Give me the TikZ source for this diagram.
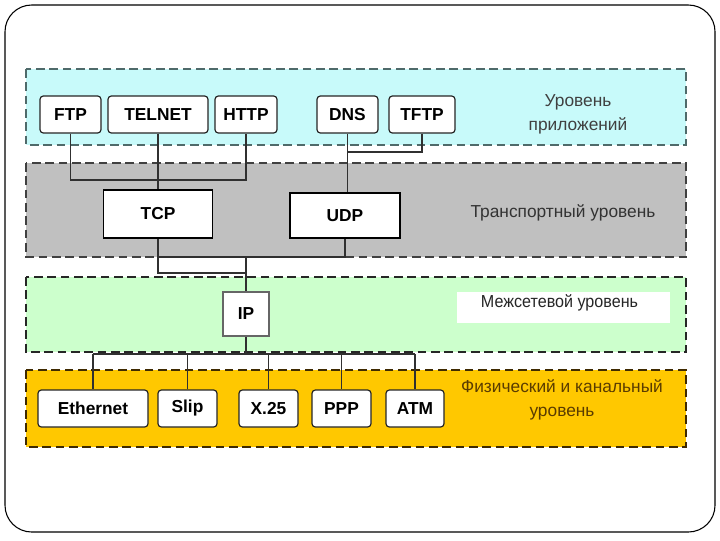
\documentclass[tikz,border=0pt]{standalone}
\usepackage{fontspec}
\setmainfont{Liberation Sans}
\usepackage{graphicx}
\definecolor{appfill}{HTML}{C8FAFA}
\definecolor{trfill}{HTML}{C0C0C0}
\definecolor{netfill}{HTML}{CCFFCC}
\definecolor{phfill}{HTML}{FFC800}
\definecolor{appline}{HTML}{4F6A6A}
\definecolor{phline}{HTML}{3F2A00}
\definecolor{phtext}{HTML}{5A3C00}
\definecolor{wire}{HTML}{303030}
\begin{document}
\begin{tikzpicture}[x=0.75pt,y=-0.75pt,
  layer/.style={line width=1.3pt, dash pattern=on 6.5pt off 3.5pt},
  proto/.style={draw=black!85, line width=0.9pt, rounded corners=2.5pt, fill=white,
    inner sep=0pt, minimum height=37*0.75pt, font=\bfseries\fontsize{13}{15}\selectfont},
  trbox/.style={draw=black, line width=1.3pt, fill=white, inner sep=0pt,
    font=\bfseries\fontsize{13}{15}\selectfont},
  lbl/.style={font=\fontsize{13}{18}\selectfont, align=center},
  wirestyle/.style={draw=wire, line width=1pt}
]
\useasboundingbox (0,0) rectangle (720,540);
% slide frame
\draw[line width=0.8pt, rounded corners=20pt] (5,5) rectangle (715,532);

% layers
\path[fill=appfill] (26,69) rectangle (686,145);
\draw[layer, draw=appline] (26,69) rectangle (686,145);
\path[fill=trfill] (26,163) rectangle (686,257);
\draw[layer, draw=black!75] (26,163) rectangle (686,257);
\path[fill=netfill] (26,277) rectangle (686,352);
\draw[layer, draw=black!85] (26,277) rectangle (686,352);
\path[fill=phfill] (26,370) rectangle (686,447);
\draw[layer, draw=phline] (26,370) rectangle (686,447);

% bus coordinates
\coordinate (busA) at (0,180);
\coordinate (busB) at (0,152);
\coordinate (busC) at (0,273);
\coordinate (busD) at (0,257);
\coordinate (busE) at (0,354);

% application protocols
\node[proto, minimum width=61*0.75pt] (FTP) at (70.5,114.5) {FTP};
\node[proto, minimum width=100*0.75pt] (TELNET) at (158,114.5) {TELNET};
\node[proto, minimum width=62*0.75pt] (HTTP) at (246,114.5) {HTTP};
\node[proto, minimum width=61*0.75pt] (DNS) at (347.5,114.5) {DNS};
\node[proto, minimum width=66*0.75pt] (TFTP) at (422,114.5) {TFTP};

% transport
\node[trbox, minimum width=109*0.75pt, minimum height=48*0.75pt] (TCP) at (158,214) {TCP};
\node[trbox, minimum width=110*0.75pt, minimum height=45*0.75pt] (UDP) at (345,215.5) {UDP};

% IP
\node[draw=black!60, line width=1.2pt, fill=white, inner sep=0pt,
  minimum width=46*0.75pt, minimum height=44*0.75pt,
  font=\bfseries\fontsize{13}{15}\selectfont] (IP) at (246,314) {IP};

% physical
\node[proto, minimum width=110*0.75pt] (ETH) at (93,408.5) {Ethernet};
\node[proto, minimum width=59*0.75pt] (SLIP) at (187.5,408.5) {Slip};
\node[proto, minimum width=59*0.75pt] (X25) at (268.5,408.5) {X.25};
\node[proto, minimum width=59*0.75pt] (PPP) at (341.5,408.5) {PPP};
\node[proto, minimum width=58*0.75pt] (ATM) at (415,408.5) {ATM};

% labels
\node[lbl, text=black!75] (applbl) at (578,114) {Уровень\\приложений};
\node[lbl, text=black!80] (trlbl) at (563,213) {Транспортный уровень};
\node[fill=white, inner sep=0pt, minimum width=213*0.75pt, minimum height=31*0.75pt] (netbox) at (563.5,307.5) {};
\node[lbl, text=black!85] (netlbl) at (559.5,303) {\scalebox{0.93}[1]{Межсетевой уровень}};
\node[lbl, text=phtext] (phlbl) at (562,400) {Физический и канальный\\уровень};

% connectors
\draw[wirestyle] (FTP.south) |- (busA -| HTTP.south) -- (HTTP.south);
\draw[wirestyle] (TELNET.south) -- (TELNET.south |- TCP.north);
\draw[wirestyle, line width=1.4pt] (DNS.south) -- (DNS.south |- UDP.north);
\draw[wirestyle] (TFTP.south) |- (busB -| DNS.south);
\draw[wirestyle] (TCP.south) |- (busC -| IP.north);
\draw[wirestyle] (UDP.south) |- (busD -| TCP.south);
\draw[wirestyle] (IP.north) -- (IP.north |- busD);
\draw[wirestyle, line width=1.3pt] (IP.south) -- (IP.south |- busE);
\draw[wirestyle, line width=1.3pt] (busE -| ETH.north) -- (busE -| ATM.north);
\foreach \n in {ETH,SLIP,X25,PPP,ATM}{
  \draw[wirestyle, line width=1.3pt] (busE -| \n.north) -- (\n.north);
}
\end{tikzpicture}
\end{document}
